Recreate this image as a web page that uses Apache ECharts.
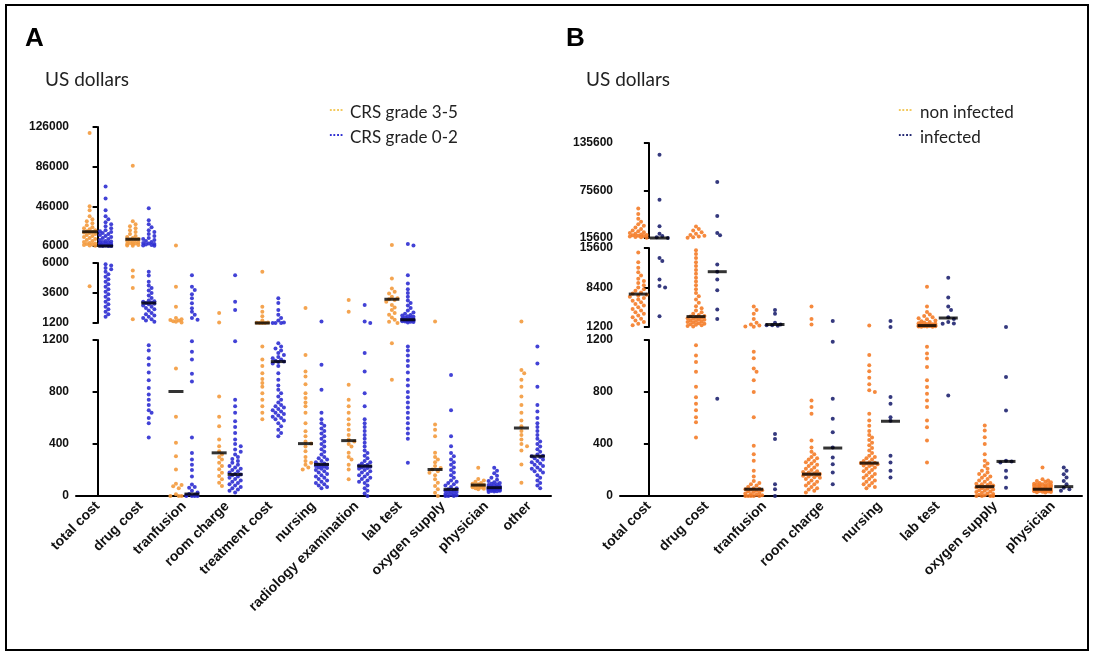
<!DOCTYPE html>
<html><head><meta charset="utf-8">
<script src="https://cdn.jsdelivr.net/npm/echarts@6/dist/echarts.min.js"></script>
<style>html,body{margin:0;padding:0;background:#fff}#c{width:1093px;height:654px}</style>
</head><body><div id="c"></div><script>
// ---------------- DATA ----------------
const catsA = ['total cost','drug cost','tranfusion','room charge','treatment cost','nursing','radiology examination','lab test','oxygen supply','physician','other'];
const catsB = ['total cost','drug cost','tranfusion','room charge','nursing','lab test','oxygen supply','physician'];
const groupNamesA = ['CRS grade 3-5','CRS grade 0-2'];
const groupNamesB = ['non infected','infected'];

// Panel A, CRS grade 3-5 (one list per category)
const aHigh = [
  [120000,46000,42000,36000,33000,31000,29000,27000,25000,24000,23000,22000,21000,20000,19500,19000,18000,17000,16000,15000,14000,13000,12000,11000,10000,9000,8500,8000,7500,7000,6500,6200,4150],
  [86800,31000,28000,26000,24000,22000,20000,18000,16000,15000,14000,13000,12500,12000,11000,10000,9500,9000,8500,8000,7500,7000,6600,6300,5400,4900,4000,1500],
  [6500,4100,2500,1600,1500,1450,1400,1350,1300,1250,980,610,410,306,204,95,85,75,60,13,0,0,0],
  [2000,1250,766,610,536,434,383,345,319,300,281,255,230,205,179,154,128,102,77],
  [5300,2500,2100,1750,1400,1250,1220,1200,1200,1200,1150,1050,1000,945,900,870,840,790,740,690,640,590],
  [2400,1085,957,920,860,791,753,720,690,640,560,498,460,420,404,380,345,300,270,255,240,220,204],
  [3050,2100,855,740,690,640,590,550,510,470,434,420,400,380,332,300,281,240,204,128],
  [7000,4760,3970,3700,3570,3300,3180,3100,3050,2900,2650,2450,2250,2000,1860,1650,1460,1300,1200,1175,894],
  [1330,550,510,460,332,300,281,260,230,215,204,190,179,160,128,102,77,51,25,0],
  [217,130,120,110,100,95,90,85,80,78,75,72,70,68,65,60,55,51],
  [1330,970,945,894,840,766,700,640,580,536,500,470,434,400,383,350,243,102]
];
// Panel A, CRS grade 0-2
const aLow = [
  [66000,54000,42000,36000,33000,30000,28000,26000,24000,22000,21000,20000,19000,18000,17000,16000,15000,14000,13000,12000,11000,10500,10000,9500,9000,8500,8000,7500,7000,6800,6600,6400,6200,6100,6000,6000,5900,5800,5600,5500,5300,5100,4900,4700,4500,4300,4100,3900,3700,3500,3300,3100,2900,2700,2500,2300,2100,1900,1700],
  [44000,32000,28000,25000,22000,20000,18000,16000,14000,13000,12000,11000,10000,9000,8500,8000,7500,7000,6600,6300,5300,5000,4500,4200,4000,3800,3600,3400,3200,3000,2950,2900,2850,2800,2750,2700,2600,2500,2400,2300,2200,2000,1900,1800,1700,1600,1500,1400,1300,1160,1120,1060,1010,950,890,830,780,740,700,660,640,600,560,450],
  [5020,4100,3840,3500,3180,2780,2390,2100,1860,1600,1460,1190,1110,1050,940,880,450,330,280,240,200,150,89,70,64,40,26,15,10,5,0,0,0,0],
  [5020,2910,2250,1190,740,690,640,575,530,485,434,400,383,357,340,320,300,285,270,255,240,230,220,210,200,190,180,170,166,160,150,140,130,120,110,100,90,80,70,60,50,40,26],
  [3180,2800,2250,1860,1600,1400,1250,1200,1200,1200,1175,1150,1135,1120,1100,1085,1070,1060,1050,1040,1034,1030,1020,1000,945,894,850,817,790,766,740,720,700,690,680,670,660,650,640,630,620,610,600,590,580,560,536,510,485,460],
  [1330,1010,817,640,590,560,540,520,500,480,460,440,420,400,380,360,340,320,300,290,280,270,260,250,243,240,235,230,225,220,215,210,200,190,180,170,160,150,140,130,120,110,100,90,80,70,60],
  [2650,1330,1200,1100,957,791,690,590,560,530,500,470,440,410,380,350,330,310,290,270,260,250,240,235,230,225,220,215,210,200,190,180,170,160,150,140,130,120,110,100,80,60,40,20,0],
  [8000,6500,5020,4370,3900,3600,3300,3000,2800,2600,2400,2200,2050,1950,1850,1800,1750,1700,1650,1600,1550,1500,1480,1460,1440,1420,1400,1380,1350,1320,1300,1280,1250,1150,1120,1080,1040,1000,950,894,850,800,760,720,680,640,600,560,520,480,440,255],
  [930,660,460,383,330,306,280,260,240,220,200,180,160,140,120,110,100,90,80,70,60,51,45,40,35,30,25,20,15,10,5,0,0,0],
  [217,195,175,155,140,125,115,105,100,95,90,85,80,75,72,70,68,66,64,62,60,58,56,54,52,50,48,46,44,42,40,38,36,34,30],
  [1150,1020,840,700,650,600,560,530,500,470,440,420,400,380,360,340,320,310,306,300,290,280,270,260,250,240,230,220,210,200,190,180,160,140,120,100,80,60]
];
const aHighMedian = [20400,12800,804,332,1200,403,426,3100,204,84,523];
const aLowMedian  = [6000,2800,15,166,1034,243,230,1460,51,64,306];

// Panel B, non infected
const bNon = [
  [53000,46000,40000,36000,33000,31000,29000,27000,25000,24000,23000,22000,21000,20000,19500,19000,18500,18000,17500,17000,16500,16000,14800,13000,12000,11200,10600,10000,9600,9200,8800,8400,8100,7800,7500,7300,7100,6900,6700,6500,6200,6000,5700,5400,5100,4800,4500,4200,3900,3600,3300,3000,2700,2400,2100,1800,1500],
  [30000,27000,25000,23000,21000,19500,18500,17500,16500,16000,15200,14500,13800,13000,12300,11600,10900,10200,9500,8800,8100,7400,6800,6200,5600,5000,4600,4200,3900,3600,3400,3200,3100,3000,2900,2800,2700,2600,2500,2400,2300,2200,2100,2000,1900,1800,1700,1600,1500,1400,1300,1160,1080,1030,955,840,760,710,660,606,568,450],
  [4930,4280,3620,2640,1990,1660,1460,1300,1250,1110,1060,980,955,890,800,606,387,322,271,194,150,116,100,90,80,70,60,55,52,48,45,40,35,30,25,20,15,10,5,0,0,0,0,0],
  [4930,2640,1660,735,684,632,426,374,340,322,300,290,280,270,260,250,240,230,220,210,200,190,185,180,175,170,168,165,160,155,150,145,140,130,120,110,100,90,80,70,60,50,40,26],
  [1460,1084,1006,960,910,860,813,800,632,580,540,500,470,450,430,410,390,370,350,330,310,300,290,280,270,260,255,253,250,245,240,235,230,220,210,200,190,180,170,160,150,140,130,120,110,100,90,80,70,60],
  [8530,4930,3950,3500,3200,3000,2800,2600,2400,2250,2100,2000,1900,1800,1750,1700,1650,1600,1550,1500,1480,1460,1440,1420,1400,1380,1350,1330,1300,1280,1250,1230,1148,1097,1058,993,890,839,787,735,684,580,529,426,258],
  [542,503,451,400,322,271,250,230,210,194,180,170,160,150,140,130,120,110,100,95,90,85,80,75,72,70,65,60,55,50,45,40,35,30,25,20,15,10,5,0,0,0,0],
  [219,129,120,115,110,105,100,95,92,90,88,85,82,80,78,75,72,70,68,65,62,60,58,55,52,50,48,46,44,42,40,38,36,34,32,30,28,26]
];
// Panel B, infected
const bInf = [
  [120900,64000,30300,21000,18000,16500,15600,13770,13240,9840,8660,8400,3160],
  [86300,43400,22000,19000,12600,11280,9840,7880,4400,2640,748],
  [4280,3620,1990,1660,1530,1500,1450,477,439,90,52,0],
  [2310,1187,748,594,490,374,297,245,181,90],
  [2310,1200,761,710,606,578,310,258,194,142],
  [10170,6570,4930,4280,2970,2640,2120,1860,1800,774],
  [1200,916,658,271,266,258,194,142,64],
  [219,194,168,142,116,90,64,52,40]
];
const bNonMedian = [7200,3100,52,168,253,1460,72,52];
const bInfMedian = [15600,11280,1660,369,575,2840,266,72];

// broken-axis tick labels (top, middle, bottom segment)
const ticksA = [[6000,46000,86000,126000],[1200,3600,6000],[0,400,800,1200]];
const ticksB = [[15600,75600,135600],[1200,8400,15600],[0,400,800,1200]];

// ---------------- LAYOUT ----------------
const panels = [
  { cats: catsA, ticks: ticksA, left: 76, width: 475, medW: 15, maxK: 2,
    segs: [{min:6000,max:126000,top:127,height:119},{min:1200,max:6000,top:263,height:60},{min:0,max:1200,top:340,height:156}],
    groups: [{vals:aHigh, med:aHighMedian, color:'#f39a3d', off:-0.185},{vals:aLow, med:aLowMedian, color:'#2d2dd2', off:0.185}] },
  { cats: catsB, ticks: ticksB, left: 620, width: 462, medW: 19, maxK: 3,
    segs: [{min:15600,max:135600,top:143,height:95},{min:1200,max:15600,top:248,height:79},{min:0,max:1200,top:340,height:156}],
    groups: [{vals:bNon, med:bNonMedian, color:'#f47c28', off:-0.184},{vals:bInf, med:bInfMedian, color:'#1f2470', off:0.184}] }
];
const DOT = 4, STEP = 2.8;

function segOf(v, segs){ for (let k=0;k<segs.length;k++){ if (v >= segs[k].min) return k; } return segs.length-1; }

function swarm(vals, seg, maxK){
  const pts = vals.map(v=>({v, y: seg.top + (seg.max - v)/(seg.max-seg.min)*seg.height})).sort((a,b)=>a.y-b.y);
  const placed = [];
  pts.forEach(p=>{
    let best = 0, bestCost = Infinity;
    outer: for (let k=0;k<=maxK;k++){
      const cands = k===0 ? [0] : [k*STEP, -k*STEP];
      for (const dx of cands){
        let cost = 0;
        for (const q of placed){ const dd = Math.hypot(q.dx-dx, q.y-p.y); if (dd < DOT*0.9) cost += DOT*0.9-dd; }
        if (cost === 0){ best = dx; bestCost = 0; break outer; }
        if (cost < bestCost - 1e-9){ bestCost = cost; best = dx; }
      }
    }
    p.dx = best; placed.push(p);
  });
  return placed;
}

const grids=[], xAxes=[], yAxes=[], series=[];
const axisFont = {fontFamily:'Liberation Sans, Arial, sans-serif', fontWeight:'bold', fontSize:12, color:'#111'};
panels.forEach((P)=>{
  const n = P.cats.length, unitPx = P.width/n;
  P.segs.forEach((S, k)=>{
    const gi = grids.length;
    const isBottom = k === P.segs.length-1;
    grids.push({left:P.left, top:S.top, width:P.width, height:S.height, containLabel:false});
    xAxes.push({type:'value', gridIndex:gi, min:-0.5, max:n-0.5, show:isBottom,
      axisLine:{show:isBottom, onZero:false, lineStyle:{color:'#000', width:2}},
      axisTick:{show:false}, splitLine:{show:false},
      axisLabel:{show:isBottom, customValues:P.cats.map((c,i)=>i), rotate:45, margin:8, ...axisFont, fontSize:14,
        formatter:(v)=>P.cats[Math.round(v)] || ''}});
    yAxes.push({type:'value', gridIndex:gi, min:S.min, max:S.max,
      axisLine:{show:true, lineStyle:{color:'#000', width:2}},
      axisTick:{show:true, inside:false, length:5, customValues:P.ticks[k], lineStyle:{color:'#000', width:2}},
      axisLabel:{customValues:P.ticks[k], margin:7, ...axisFont, formatter:(v)=>String(v)},
      splitLine:{show:false}});
    P.groups.forEach(G=>{
      const data = [];
      G.vals.forEach((arr, i)=>{
        const sub = arr.filter(v=>segOf(v, P.segs)===k);
        swarm(sub, S, P.maxK).forEach(p=>data.push([i + G.off + p.dx/unitPx, p.v]));
      });
      series.push({type:'scatter', xAxisIndex:gi, yAxisIndex:gi, data, symbol:'circle', symbolSize:DOT,
        itemStyle:{color:G.color, opacity:0.9}, silent:true, z:2});
    });
    const md = [];
    P.groups.forEach(G=>{ G.med.forEach((m,i)=>{ if (segOf(m,P.segs)===k) md.push([i+G.off, m]); }); });
    series.push({type:'scatter', xAxisIndex:gi, yAxisIndex:gi, data:md, symbol:'rect', symbolSize:[P.medW,3],
      itemStyle:{color:'#000'}, silent:true, z:5});
  });
});

const txt = (x,y,text,font,fill)=>({type:'text', left:x, top:y, style:{text, font, fill:fill||'#111'}});
const legFont = '17px Lato, "Open Sans", sans-serif';
const graphic = [
  {type:'rect', shape:{x:6, y:5, width:1082, height:645}, style:{fill:'none', stroke:'#000', lineWidth:2}},
  txt(25,26,'A','bold 26px "Liberation Sans", Arial, sans-serif','#000'),
  txt(566,26,'B','bold 26px "Liberation Sans", Arial, sans-serif','#000'),
  txt(45,70,'US dollars','19px Lato, "Open Sans", sans-serif','#222'),
  txt(586,70,'US dollars','19px Lato, "Open Sans", sans-serif','#222'),
  txt(329,101,'....','bold 13px "Liberation Sans", sans-serif','#f3c85a'),
  txt(329,126,'....','bold 13px "Liberation Sans", sans-serif','#2d2dd2'),
  txt(350,104,groupNamesA[0],legFont,'#222'),
  txt(350,129,groupNamesA[1],legFont,'#222'),
  txt(898,101,'....','bold 13px "Liberation Sans", sans-serif','#f3c85a'),
  txt(898,126,'....','bold 13px "Liberation Sans", sans-serif','#1f2470'),
  txt(920,104,groupNamesB[0],legFont,'#222'),
  txt(920,129,groupNamesB[1],legFont,'#222')
];

const chart = echarts.init(document.getElementById('c'), null, {renderer:'canvas'});
chart.setOption({animation:false, backgroundColor:'#fff', grid:grids, xAxis:xAxes, yAxis:yAxes, series, graphic});
</script></body></html>
